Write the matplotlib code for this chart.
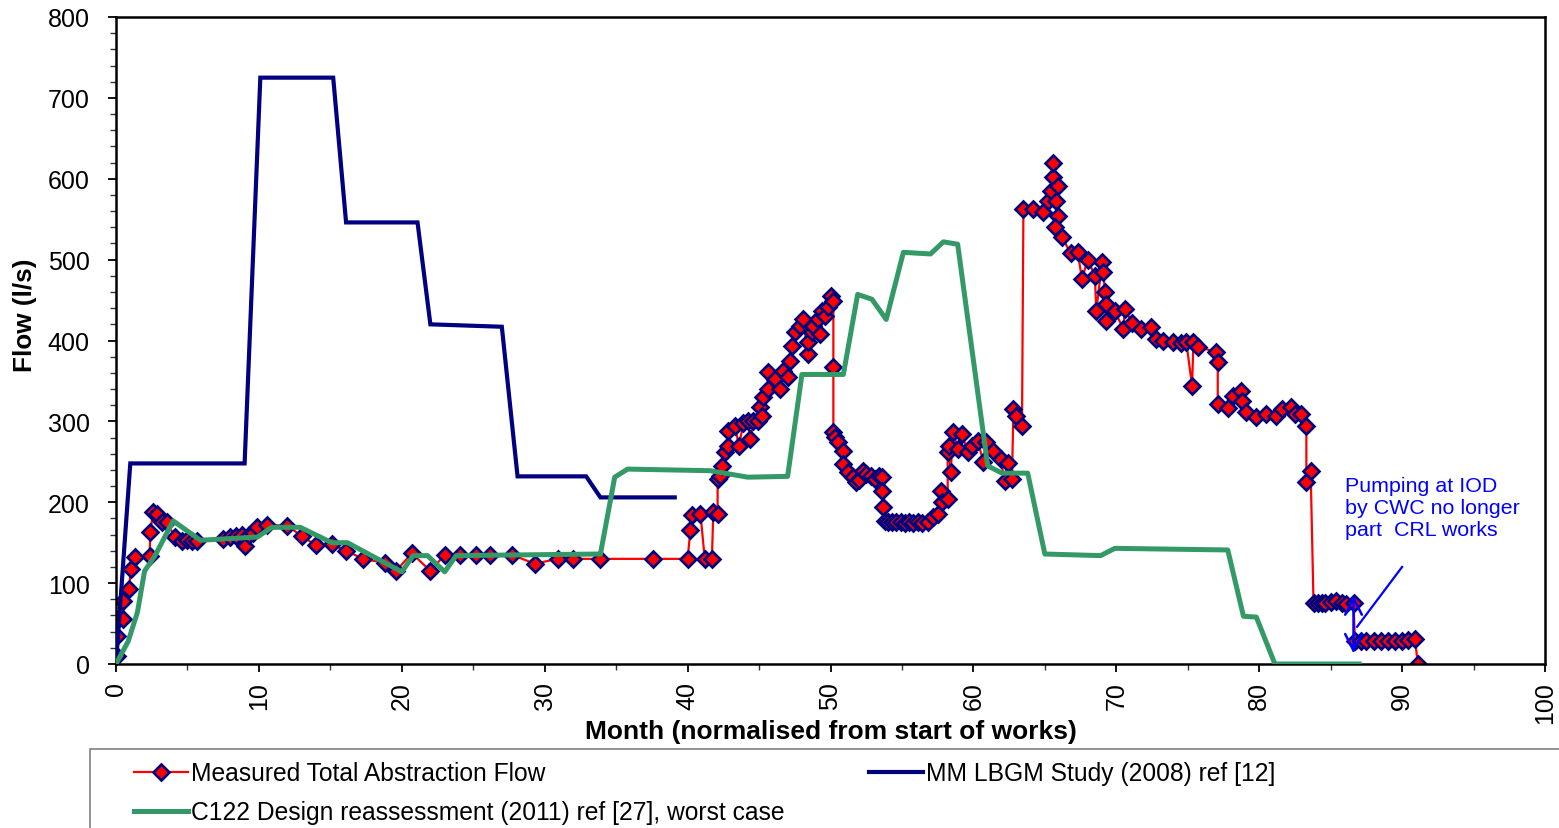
import matplotlib
matplotlib.use("Agg")
import matplotlib.pyplot as plt
from matplotlib.patches import Rectangle
from matplotlib.ticker import MultipleLocator

plt.rcParams['font.family'] = ['Liberation Sans', 'DejaVu Sans']

# ---- data ----
measured_month = [
    0.05, 0.07, 0.1, 0.5, 0.5, 0.9, 1.05, 1.3, 2.35, 2.4, 2.6, 2.9, 3.2, 3.6, 4.1, 4.6, 5.0, 5.3, 5.7,
    7.5, 8.0, 8.4, 8.8, 9.0, 9.3, 9.6, 9.9, 10.6, 12.0, 13.0, 14.0, 15.1, 16.1, 17.3, 18.8, 19.6,
    20.7, 22.0, 23.0, 24.1, 25.2, 26.2, 27.7, 29.3, 30.9, 32.0, 33.9, 37.6, 40.0, 40.2, 40.3, 40.9,
    41.2, 41.7, 41.8, 42.1, 42.1, 42.3, 42.4, 42.6, 42.8, 42.8, 43.3, 43.6, 43.9, 44.2, 44.4, 44.6,
    44.9, 45.1, 45.2, 45.3, 45.6, 45.6, 46.1, 46.5, 46.7, 47.0, 47.2, 47.3, 47.5, 47.9, 48.1, 48.4,
    48.4, 48.7, 48.8, 49.1, 49.3, 49.4, 49.6, 49.8, 50.0, 50.2, 50.2, 50.2, 50.3, 50.5, 50.9, 50.9,
    51.2, 51.6, 51.8, 52.0, 52.3, 52.5, 52.8, 53.1, 53.4, 53.6, 53.6, 53.7, 53.8, 54.0, 54.3, 54.6,
    54.9, 55.2, 55.5, 55.8, 56.1, 56.4, 56.8, 57.2, 57.5, 57.7, 57.8, 58.2, 58.2, 58.3, 58.4, 58.6,
    58.9, 59.2, 59.6, 59.9, 60.3, 60.7, 60.9, 61.4, 61.9, 62.2, 62.4, 62.7, 62.8, 63.0, 63.4, 63.5,
    64.2, 64.9, 65.2, 65.4, 65.6, 65.6, 65.9, 65.8, 65.9, 65.7, 66.2, 66.8, 67.3, 67.6, 68.0, 68.5,
    68.6, 69.0, 69.1, 69.2, 69.3, 69.3, 69.9, 70.5, 70.6, 71.1, 71.7, 72.4, 72.8, 73.3, 74.0, 74.5,
    74.9, 75.3, 75.4, 75.7, 77.0, 77.1, 77.1, 77.8, 78.2, 78.7, 78.8, 79.1, 79.8, 80.5, 81.2, 81.6,
    82.2, 82.5, 82.9, 83.3, 83.3, 83.6, 83.8, 84.1, 84.4, 84.6, 85.0, 85.4, 85.8, 86.1, 86.6, 86.7,
    87.1, 87.5, 88.0, 88.5, 89.0, 89.5, 90.0, 90.4, 90.9, 91.1]
measured_flow = [
    10, 35, 55, 56, 78, 93, 117, 132, 134, 163, 188, 185, 175, 175, 157, 152, 153, 152, 152,
    154, 157, 158, 159, 146, 160, 162, 170, 172, 171, 158, 147, 148, 140, 130, 125, 115,
    137, 115, 135, 135, 135, 135, 135, 124, 130, 130, 130, 130, 130, 166, 184, 186,
    130, 130, 188, 186, 229, 233, 245, 262, 270, 288, 294, 270, 298, 300, 278, 300,
    301, 318, 307, 330, 340, 361, 352, 340, 362, 355, 375, 393, 410, 418, 427, 383,
    398, 410, 418, 427, 408, 436, 430, 441, 455, 449, 367, 287, 281, 274, 263, 247,
    237, 231, 225, 228, 239, 235, 232, 229, 233, 231, 214, 194, 177, 176, 175, 176,
    175, 174, 175, 174, 175, 174, 175, 182, 185, 214, 200, 204, 262, 270, 237, 287,
    266, 284, 262, 270, 276, 250, 274, 263, 253, 226, 249, 229, 315, 307, 294, 562,
    562, 559, 572, 585, 602, 620, 591, 572, 554, 540, 528, 508, 509, 476, 500, 480,
    436, 497, 485, 460, 445, 424, 436, 414, 439, 422, 414, 417, 402, 400, 398, 397,
    398, 344, 398, 392, 386, 374, 321, 317, 331, 337, 325, 311, 305, 309, 307, 315,
    318, 309, 309, 294, 225, 239, 76, 76, 76, 76, 77, 78, 75, 74, 76, 28,
    28, 28, 28, 29, 29, 28, 29, 30, 31, 0]

mm_month = [0, 1.0, 9.0, 10.1, 15.2, 16.1, 21.1, 22.0, 27.0, 28.1, 32.9, 33.9, 39.1]
mm_flow = [0, 248, 248, 725, 725, 546, 546, 420, 417, 232, 232, 206, 206]

c122_month = [0, 0.85, 1.5, 2.0, 2.7, 4.0, 5.9, 9.9, 10.9, 12.9, 15.1, 16.2, 18.3, 20.0, 20.8,
              21.8, 23.0, 23.8, 33.9, 34.9, 35.8, 41.6, 44.2, 47.0, 48.0, 50.9, 51.9, 52.9,
              53.9, 55.1, 57.0, 57.9, 58.9, 61.0, 62.0, 63.8, 65.0, 68.9, 69.9, 77.8, 78.9,
              79.8, 81.1, 87.0]
c122_flow = [0, 28, 64, 115, 133, 177, 153, 157, 169, 169, 150, 150, 130, 114, 134,
             134, 114, 134, 136, 231, 241, 239, 231, 232, 358, 358, 457, 451,
             426, 509, 507, 522, 519, 245, 236, 236, 136, 134, 143, 141, 59,
             58, 0, 0]

legend_labels = ["Measured Total Abstraction Flow",
                 "MM LBGM Study (2008) ref [12]",
                 "C122 Design reassessment (2011) ref [27], worst case"]
annotation_text = "Pumping at IOD\nby CWC no longer\npart  CRL works"

# ---- figure ----
fig = plt.figure(figsize=(15.59, 8.29), dpi=100)
ax = fig.add_axes([116/1559, 1-665/829, (1545-116)/1559, (665-18)/829])

h_meas, = ax.plot(measured_month, measured_flow, color='#FF0000', lw=1.6, marker='D',
                  markersize=8.3, markerfacecolor='#FF0000', markeredgecolor='#000080',
                  markeredgewidth=1.9, zorder=2)
h_mm, = ax.plot(mm_month, mm_flow, color='#000080', lw=3.0, zorder=3, solid_joinstyle='miter')
h_c122, = ax.plot(c122_month, c122_flow, color='#339966', lw=3.6, zorder=4)

ax.set_xlim(0, 100)
ax.set_ylim(0, 800)
ax.xaxis.set_major_locator(MultipleLocator(10))
ax.xaxis.set_minor_locator(MultipleLocator(5))
ax.yaxis.set_major_locator(MultipleLocator(100))
ax.yaxis.set_minor_locator(MultipleLocator(20))
ax.tick_params(axis='both', which='major', direction='out', length=6, width=1.3,
               labelsize=18, color='black')
ax.tick_params(axis='both', which='minor', direction='out', length=4, width=1.0, color='#333333')
ax.tick_params(axis='y', which='major', pad=13)
ax.tick_params(axis='x', which='major', pad=6, labelrotation=90)
for s in ax.spines.values():
    s.set_linewidth(1.8)
    s.set_color('black')

ax.set_xlabel("Month (normalised from start of works)", fontsize=19, fontweight='bold')
ax.xaxis.set_label_coords(0.5, -0.085)
ax.set_ylabel("Flow (l/s)", fontsize=18.8, fontweight='bold')
ax.yaxis.set_label_coords(-0.055, 0.54)

# annotation
ax.text(86.0, 233, annotation_text, color='#0000FF', fontsize=15.4, va='top', ha='left',
        linespacing=1.22, zorder=6)
ax.plot([90.0, 86.85], [120, 46], color='#0000FF', lw=1.6, zorder=6)
ax.annotate('', xy=(86.6, 13), xytext=(86.6, 85),
            arrowprops=dict(arrowstyle='<->', color='#0000FF', lw=1.8, mutation_scale=30,
                            shrinkA=0, shrinkB=0),
            zorder=6)

# legend box
fig.patches.append(Rectangle((90/1559, -0.05), 1.0, 0.05 + 1-750/829, transform=fig.transFigure,
                             facecolor='white', edgecolor='#808080', lw=1.2, zorder=0))
fig.legend([h_meas, h_c122, h_mm], [legend_labels[0], legend_labels[2], legend_labels[1]],
           ncol=2, loc='upper left', bbox_to_anchor=(117/1559, 1-745/829), frameon=False,
           fontsize=17.7, handlelength=2.2, handletextpad=0.1, columnspacing=3.45,
           labelspacing=0.62, borderpad=0.2)

fig.savefig("out.png", dpi=100)
